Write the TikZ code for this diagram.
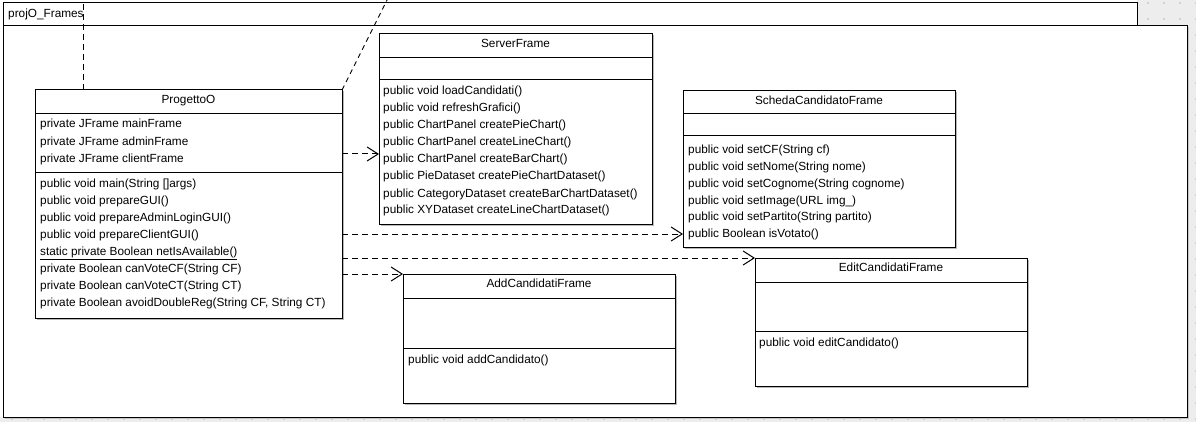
\documentclass[tikz,border=0pt]{standalone}
\usepackage{fontspec}
\setmainfont{Liberation Sans}
\usetikzlibrary{arrows.meta,shadows}
\definecolor{canvasgray}{HTML}{EDEDED}
\definecolor{dotgray}{HTML}{D2D2D2}

\begin{document}
\begin{tikzpicture}[x=1pt,y=-1pt,
  font=\fontsize{11.8}{14}\selectfont,
  classbox/.style={draw=black, line width=1pt, fill=white, inner sep=0pt, outer sep=0pt,
    anchor=north west,
    drop shadow={shadow xshift=1.5pt, shadow yshift=-1.5pt, fill=black!28, opacity=1}},
  pkgbox/.style={draw=black, line width=1pt, fill=white, inner sep=0pt, outer sep=0pt,
    anchor=north west},
  member/.style={anchor=west, inner sep=0pt, text height=9pt, text depth=1pt},
  ctitle/.style={inner sep=0pt, text height=9pt, text depth=1pt},
  sepline/.style={line width=1pt},
  dep/.style={line width=1pt, dash pattern=on 6pt off 4pt,
    -{Straight Barb[length=11pt,width=14pt]}},
  outdash/.style={line width=1pt, dash pattern=on 6pt off 4pt},
  outdiag/.style={line width=0.9pt, dash pattern=on 5pt off 4pt}]

\useasboundingbox (0,0) rectangle (1196,422);
\clip (0,0) rectangle (1196,422);

% drawing canvas with its dot grid
\fill[canvasgray] (0,0) rectangle (1196,422);
\foreach \i in {0,...,74}
  \foreach \j in {0,...,26}
    \fill[dotgray] (12+16*\i-0.8, 3+16*\j-0.8) rectangle +(1.6,1.6);
\fill[white] (0,0) -- (1137,0) -- (1137,26) -- (1187,26) -- (1187,417) -- (0,417) -- cycle;

% package
\node[pkgbox, minimum width=1134pt, minimum height=23.5pt] (tab) at (3,2.5) {};
\node[pkgbox, minimum width=1184pt, minimum height=391pt,
  drop shadow={shadow xshift=1.5pt, shadow yshift=-1.5pt, fill=black!22, opacity=1}] (pkg) at (3,26) {};
\node[member] (pkgname) at (8,13.5) {projO\_Frames};

% ProgettoO
\node[classbox, minimum width=307pt, minimum height=228pt] (prog) at (35,90) {};
\draw[sepline] (prog.west |- 0,114) -- (prog.east |- 0,114);
\draw[sepline] (prog.west |- 0,173) -- (prog.east |- 0,173);
\node[ctitle] (prog-t) at (prog.north |- 0,100) {ProgettoO};
\foreach \t [count=\i from 0] in {{private JFrame mainFrame},{private JFrame adminFrame},{private JFrame clientFrame}}
  \node[member] (prog-a\i) at (40,124+17.4*\i) {\t};
\foreach \t [count=\i from 0] in {{public void main(String []args)},{public void prepareGUI()},
    {public void prepareAdminLoginGUI()},{public void prepareClientGUI()},
    {\underline{static private Boolean netIsAvailable()}},{private Boolean canVoteCF(String CF)},
    {private Boolean canVoteCT(String CT)},{private Boolean avoidDoubleReg(String CF, String CT)}}
  \node[member] (prog-m\i) at (40,184+16.95*\i) {\t};

% ServerFrame
\node[classbox, minimum width=273pt, minimum height=190pt] (srv) at (379,34) {};
\draw[sepline] (srv.west |- 0,58) -- (srv.east |- 0,58);
\draw[sepline] (srv.west |- 0,80) -- (srv.east |- 0,80);
\node[ctitle] (srv-t) at (srv.north |- 0,44) {ServerFrame};
\foreach \t [count=\i from 0] in {{public void loadCandidati()},{public void refreshGrafici()},
    {public ChartPanel createPieChart()},{public ChartPanel createLineChart()},
    {public ChartPanel createBarChart()},{public PieDataset createPieChartDataset()},
    {public CategoryDataset createBarChartDataset()},{public XYDataset createLineChartDataset()}}
  \node[member] (srv-m\i) at (383,91+17*\i) {\t};

% SchedaCandidatoFrame
\node[classbox, minimum width=272pt, minimum height=156pt] (scheda) at (683,91) {};
\draw[sepline] (scheda.west |- 0,114) -- (scheda.east |- 0,114);
\draw[sepline] (scheda.west |- 0,136) -- (scheda.east |- 0,136);
\node[ctitle] (scheda-t) at (scheda.north |- 0,101) {SchedaCandidatoFrame};
\foreach \t [count=\i from 0] in {{public void setCF(String cf)},{public void setNome(String nome)},
    {public void setCognome(String cognome)},{public void setImage(URL img\_)},
    {public void setPartito(String partito)},{public Boolean isVotato()}}
  \node[member] (scheda-m\i) at (688,150+16.7*\i) {\t};

% AddCandidatiFrame
\node[classbox, minimum width=272pt, minimum height=129pt] (add) at (403,274) {};
\draw[sepline] (add.west |- 0,298) -- (add.east |- 0,298);
\draw[sepline] (add.west |- 0,348) -- (add.east |- 0,348);
\node[ctitle] (add-t) at (add.north |- 0,283) {AddCandidatiFrame};
\node[member] (add-m0) at (408,359) {public void addCandidato()};

% EditCandidatiFrame
\node[classbox, minimum width=272pt, minimum height=128pt] (edit) at (755,258) {};
\draw[sepline] (edit.west |- 0,282) -- (edit.east |- 0,282);
\draw[sepline] (edit.west |- 0,331) -- (edit.east |- 0,331);
\node[ctitle] (edit-t) at (edit.north |- 0,267) {EditCandidatiFrame};
\node[member] (edit-m0) at (759,342) {public void editCandidato()};

% dependencies
\draw[dep] (prog.east |- 0,154) -- (srv.west |- 0,154);
\draw[dep] (prog.east |- 0,234) -- (scheda.west |- 0,234);
\draw[dep] (prog.east |- edit.north west) -- (edit.north west);
\draw[dep] (prog.east |- add.north west) -- (add.north west);

% links leaving the visible area
\coordinate (upA) at (83,-5);
\coordinate (upB) at (389.5,-5);
\draw[outdash] (upA |- prog.north) -- (upA);
\draw[outdiag] (prog.north east) -- (upB);

\end{tikzpicture}
\end{document}
